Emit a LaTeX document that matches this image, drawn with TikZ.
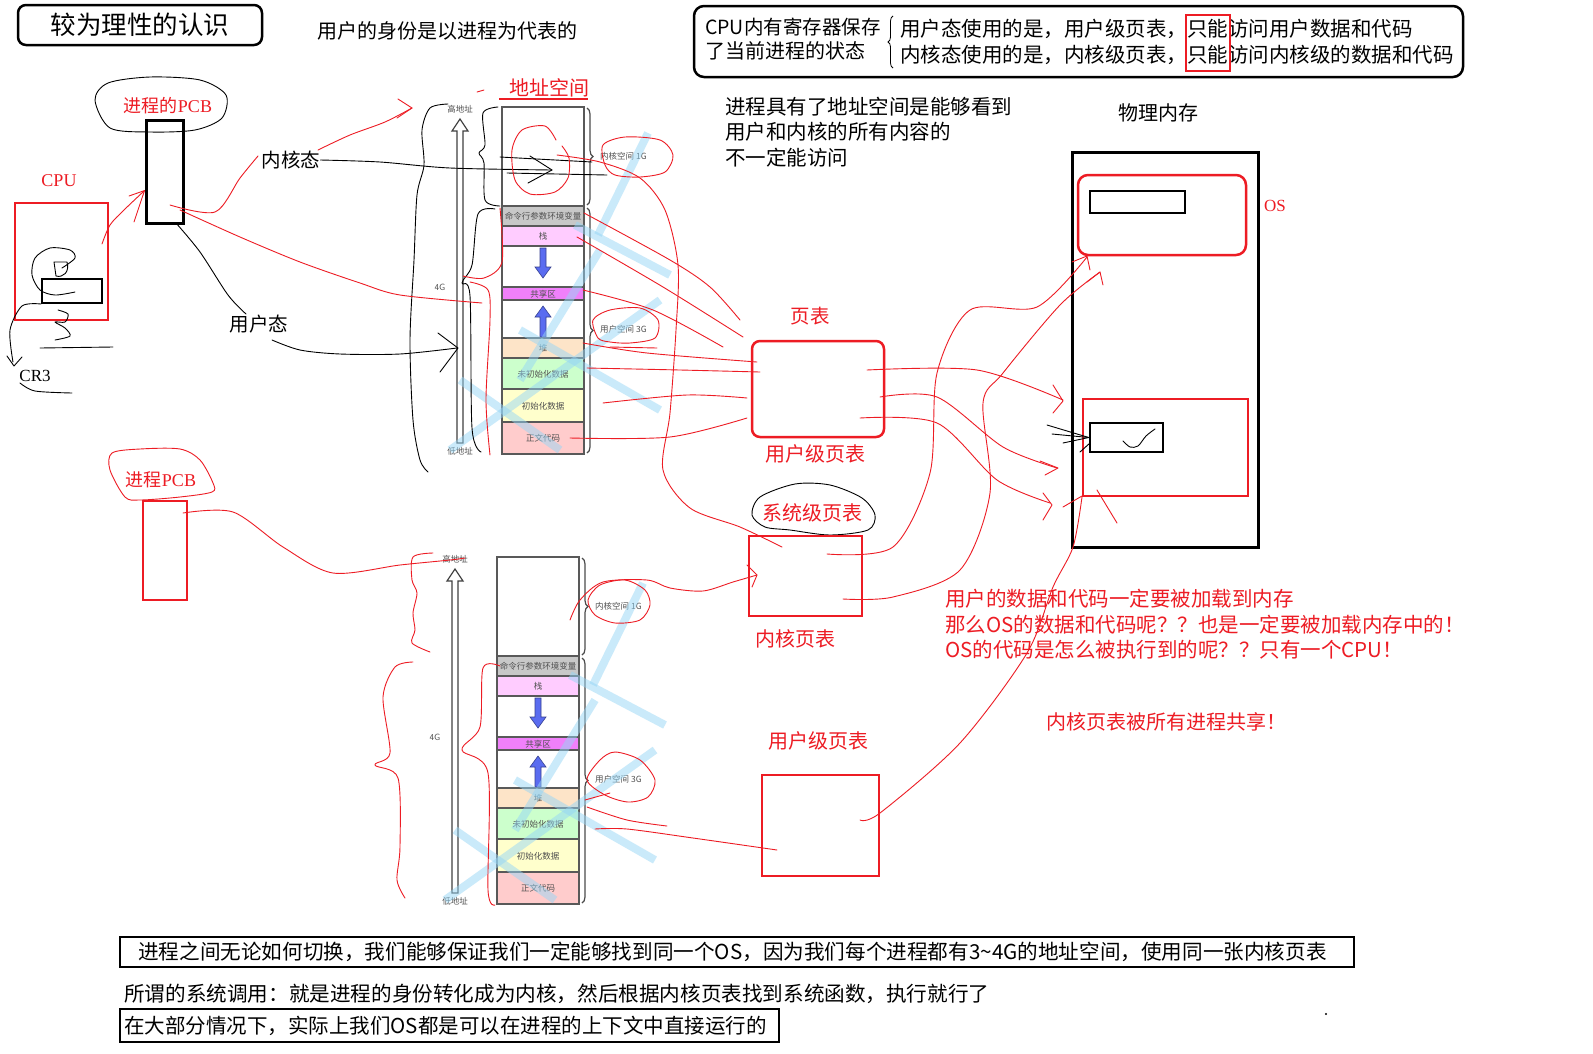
\documentclass[tikz,border=0pt]{standalone}
\usepackage{fontspec}
\usetikzlibrary{decorations.pathreplacing,calc,shapes.geometric}
\newfontfamily\cjk{Noto Sans CJK SC}
\newfontfamily\serif{Liberation Serif}
\definecolor{hred}{RGB}{237,28,36}
\definecolor{wmblue}{RGB}{150,214,246}
\definecolor{segcmd}{RGB}{200,200,200}
\definecolor{segstack}{RGB}{255,204,255}
\definecolor{segshare}{RGB}{240,128,250}
\definecolor{segheap}{RGB}{253,228,200}
\definecolor{segbss}{RGB}{204,255,204}
\definecolor{segdata}{RGB}{255,255,204}
\definecolor{segtext}{RGB}{255,204,204}
\definecolor{arrblue}{RGB}{90,108,240}
\definecolor{labgray}{RGB}{80,80,80}

\tikzset{
  cn/.style={font=\cjk\fontsize{#1}{#1}\selectfont, inner sep=0pt, text=black},
  rcn/.style={cn=#1, text=hred},
  sr/.style={font=\serif\fontsize{#1}{#1}\selectfont, inner sep=0pt},
  bh/.style={line width=0.9pt, black, line cap=round, line join=round},
  rh/.style={line width=0.9pt, hred, line cap=round, line join=round},
  rbox/.style={draw=hred, line width=2.5pt},
  kbox/.style={draw=black, line width=2.5pt},
  seglab/.style={cn=8.5, text=labgray},
  colline/.style={draw=black!65, line width=1.2pt},
  wm/.style={line width=8pt, wmblue, opacity=0.5},
}

% one 4G address-space column, drawn with its top-left corner at the origin
\newcommand\addrcolumn{%
  \fill[white] (0,0) rectangle (82,347);
  \fill[segcmd] (0,99) rectangle (82,119);
  \fill[segstack] (0,119) rectangle (82,139);
  \fill[segshare] (0,180) rectangle (82,193);
  \fill[segheap] (0,231) rectangle (82,251);
  \fill[segbss] (0,251) rectangle (82,282);
  \fill[segdata] (0,282) rectangle (82,315);
  \fill[segtext] (0,315) rectangle (82,347);
  \foreach \yy in {99,119,139,180,193,231,251,282,315}{\draw[colline] (0,\yy) -- (82,\yy);}
  \draw[colline] (0,0) rectangle (82,347);
  \node[seglab] at (41,109) {命令行参数环境变量};
  \node[seglab] at (41,129) {栈};
  \node[seglab] at (41,187) {共享区};
  \node[seglab] at (41,241) {堆};
  \node[seglab] at (41,267) {未初始化数据};
  \node[seglab] at (41,299) {初始化数据};
  \node[seglab] at (41,331) {正文代码};
  % stack grows down, heap grows up
  \draw[fill=arrblue, draw=arrblue!60!black, line width=0.6pt]
    (38,141)--(44,141)--(44,160)--(49,160)--(41,171)--(33,160)--(38,160)--cycle;
  \draw[fill=arrblue, draw=arrblue!60!black, line width=0.6pt]
    (38,230)--(44,230)--(44,210)--(49,210)--(41,199)--(33,210)--(38,210)--cycle;
  % braces for kernel / user space
  \draw[decorate, decoration={brace, amplitude=6pt}, black!70, line width=1.2pt] (85,1) -- (85,98);
  \draw[decorate, decoration={brace, amplitude=6pt}, black!70, line width=1.2pt] (85,101) -- (85,346);
  \node[seglab, anchor=west] at (98,49) {内核空间 1G};
  \node[seglab, anchor=west] at (98,222) {用户空间 3G};
  % low -> high address arrow
  \draw[fill=white, draw=black!75, line width=1.2pt]
    (-45,336)--(-39,336)--(-39,24)--(-34,24)--(-42,12)--(-50,24)--(-45,24)--cycle;
  \node[seglab] at (-42,2) {高地址};
  \node[seglab] at (-42,344) {低地址};
  \node[seglab, font=\sffamily\fontsize{9}{9}\selectfont] at (-62,180) {4G};
  % faint watermark strokes
  \draw[wm] (146,26) -- (96,128);
  \draw[wm] (73,118) -- (168,168);
  \draw[wm] (158,193) -- (-52,343);
  \draw[wm] (18,223) -- (158,303);
  \draw[wm] (98,143) -- (18,273);
  \draw[wm] (-42,273) -- (58,343);
}

\begin{document}
\begin{tikzpicture}[x=1pt,y=-1pt]
\useasboundingbox (0,0) rectangle (1593,1053);
\fill[white] (0,0) rectangle (1593,1053);

% ---------- headings ----------
\node[draw, rounded corners=8pt, line width=2.5pt, minimum width=244pt, minimum height=40pt,
      cn=25.5] (title) at (140,25) {较为理性的认识};
\node[cn=20] (ident) at (447,31) {用户的身份是以进程为代表的};

\draw[line width=2.5pt, rounded corners=10pt] (694,6) rectangle (1463,77);
\node[cn=19.5, anchor=west] (reg1) at (705,27) {CPU内有寄存器保存};
\node[cn=20, anchor=west] (reg2) at (705,51) {了当前进程的状态};
\draw[decorate, decoration={brace, amplitude=5pt, mirror}, line width=0.8pt] (893,16) -- (893,68);
\node[cn=20.5, anchor=west] (umode) at (900,29) {用户态使用的是，用户级页表，只能访问用户数据和代码};
\node[cn=20.5, anchor=west] (kmode) at (900,55) {内核态使用的是，内核级页表，只能访问内核级的数据和代码};
\draw[hred, line width=2.5pt] (1186,15) rectangle (1230,71);

\node[cn=20.5, anchor=west] (see1) at (725,107) {进程具有了地址空间是能够看到};
\node[cn=20.5, anchor=west] (see2) at (725,132) {用户和内核的所有内容的};
\node[cn=20.5, anchor=west] (see3) at (725,158) {不一定能访问};

% ---------- address spaces ----------
\node[rcn=20] (asp) at (549,88) {地址空间};
\draw[hred, line width=1.5pt] (499,99) -- (588,99);
\begin{scope}[shift={(502,107)}]\addrcolumn\end{scope}
\begin{scope}[shift={(497,557)}]\addrcolumn\end{scope}

% ---------- physical memory ----------
\node[cn=20] (phys) at (1158,113) {物理内存};
\draw[black, line width=3pt] (1072,152) rectangle (1258,547);
\draw[rbox, rounded corners=10pt] (1078,175) rectangle (1246,255);
\node[draw, line width=2.5pt, minimum width=95pt, minimum height=22pt, inner sep=0pt] (oscode) at (1137.5,202) {};
\node[sr=17, text=hred] (oslab) at (1275,206) {OS};
\draw[rbox] (1083,399) rectangle (1248,496);
\node[draw, line width=2.5pt, minimum width=73pt, minimum height=29pt, inner sep=0pt] (usermem) at (1126.5,437.5) {};
\draw[bh] plot[smooth] coordinates {(1123,441) (1130,447) (1138,446) (1146,436) (1155,429)};

% ---------- page tables ----------
\node[rcn=19.5] (ptlab) at (810,316) {页表};
\node[draw=hred, line width=2.5pt, rounded corners=8pt, minimum width=132pt, minimum height=96pt] (upt) at (818,389) {};
\node[rcn=20] (uptlab) at (815,454) {用户级页表};
\node[rcn=20] (sptlab) at (812,513) {系统级页表};
\draw[bh] plot[smooth cycle] coordinates {(752,515) (760,497) (795,484) (830,485) (862,498) (875,515) (868,530) (830,535) (790,530) (765,527)};
\node[draw=hred, line width=2.5pt, minimum width=113pt, minimum height=80pt] (kpt) at (805.5,576) {};
\node[rcn=20] (kptlab) at (795,639) {内核页表};
\node[rcn=20] (upt2lab) at (818,741) {用户级页表};
\node[draw=hred, line width=2.5pt, minimum width=117pt, minimum height=101pt] (upt2) at (820.5,825.5) {};

% ---------- red remarks ----------
\node[rcn=20.5, anchor=west] (rm1) at (945,599) {用户的数据和代码一定要被加载到内存};
\node[rcn=20.5, anchor=west] (rm2) at (945,625) {那么OS的数据和代码呢？？也是一定要被加载内存中的！};
\node[rcn=20.5, anchor=west] (rm3) at (945,650) {OS的代码是怎么被执行到的呢？？只有一个CPU！};
\node[rcn=20] (share) at (1166,722) {内核页表被所有进程共享！};

% ---------- bottom notes ----------
\draw[line width=2.5pt] (120,937) rectangle (1354,967);
\node[cn=20.6, anchor=west] (note1) at (138,952) {进程之间无论如何切换，我们能够保证我们一定能够找到同一个OS，因为我们每个进程都有3\textasciitilde 4G的地址空间，使用同一张内核页表};
\node[cn=20.6, anchor=west] (note2) at (124,994) {所谓的系统调用：就是进程的身份转化成为内核，然后根据内核页表找到系统函数，执行就行了};
\draw[line width=2.5pt] (120,1009) rectangle (779,1042);
\node[cn=20.5, anchor=west] (note3) at (124,1026) {在大部分情况下，实际上我们OS都是可以在进程的上下文中直接运行的};
\fill (1326,1014) circle (1.2);

% ---------- CPU and PCBs ----------
\node[font=\fontsize{18}{18}\selectfont, inner sep=0pt, text=hred] (pcblab) at (168,106) {{\cjk 进程的}{\serif PCB}};
\draw[bh] plot[smooth cycle] coordinates {(95,100) (108,83) (150,77) (200,80) (226,95) (222,118) (195,130) (150,132) (110,128)};
\node[draw, line width=3pt, minimum width=37pt, minimum height=103pt, inner sep=0pt] (pcb) at (164.5,171.5) {};
\node[sr=18, text=hred] (cpulab) at (59,181) {CPU};
\node[draw=hred, line width=2.5pt, minimum width=93pt, minimum height=117pt, inner sep=0pt] (cpu) at (61.5,261.5) {};
\node[draw, line width=2pt, minimum width=60pt, minimum height=24pt, inner sep=0pt] (cr) at (72,291) {};
\node[sr=17] (cr3) at (35,376) {CR3};
\node[cn=19.5] (kst) at (291,160) {内核态};
\node[cn=19.5] (ust) at (259,324) {用户态};
\node[font=\fontsize{18}{18}\selectfont, inner sep=0pt, text=hred] (pcb2lab) at (161,480) {{\cjk 进程}{\serif PCB}};
\node[draw=hred, line width=2.5pt, minimum width=44pt, minimum height=99pt, inner sep=0pt] (pcb2) at (165,550.5) {};
\coordinate (pcbin) at ($(pcb.south west)!0.32!(pcb.north west)$);

% scribbles inside the CPU
\draw[bh] plot[smooth] coordinates {(62,268) (75,258) (70,250) (50,248) (35,258) (32,275) (40,290) (55,295) (75,292)};
\draw[bh] (54,262) -- (67,262) .. controls (70,272) and (63,278) .. (56,276) -- cycle;
\draw[bh] plot[smooth] coordinates {(58,310) (68,314) (65,322) (55,322) (65,328) (70,336) (55,340)};
\draw[bh] (40,348) -- (113,347);
\draw[bh] plot[smooth] coordinates {(cr.south west) (22,306) (10,330) (13,362)};
\draw[bh] (7,356) -- (14,366) -- (22,357);
\draw[bh] plot[smooth] coordinates {(20,383) (35,391) (72,393)};

% ---------- black hand-drawn connectors ----------
\draw[bh] plot[smooth] coordinates {(kst.east) (380,162) (450,168) (552,170)};
\draw[bh] (530,156) -- (552,170) -- (528,183);
\draw[bh] (500,157) -- (592,162);
\draw[bh] (507,173) -- (607,175);
\draw[bh] plot[smooth] coordinates {(176,223) (200,252) (228,295) (246,314)};
\draw[bh] plot[smooth] coordinates {(272,340) (300,350) (340,354) (400,354) (457,348)};
\draw[bh] (438,333) -- (458,348) -- (440,372);
\draw[bh] plot[smooth] coordinates {(448,104) (430,108) (422,130) (424,165) (417,195) (414,260) (410,340) (413,420) (420,460) (428,472)};
\draw[bh] plot[smooth] coordinates {(498,107) (483,113) (485,145) (479,153) (484,163) (485,200) (500,206)};
\draw[bh] plot[smooth] coordinates {(495,209) (478,214) (472,265) (462,283) (470,296) (472,428) (481,452)};
\draw[bh] (1047,425) -- (usermem.west);
\draw[bh] (1052,434) -- (usermem.west);
\draw[bh] (1063,443) -- (usermem.west);
\draw[bh] (1080,452) -- (1090,443);

% ---------- red hand-drawn connectors ----------
% CPU -> PCB
\draw[rh] plot[smooth] coordinates {(102,244) (110,225) (124,210) (pcbin)};
\draw[rh] (129,196) -- (pcbin) -- (134,222);
% PCB -> high addresses / user space
\draw[rh] plot[smooth] coordinates {(170,205) (215,212) (240,178) (258,156)};
\draw[rh] plot[smooth] coordinates {(318,150) (350,135) (385,122) (412,108)};
\draw[rh] (398,99) -- (412,108) -- (397,118);
\draw[rh] (477,92) -- (484,90);
\draw[rh] plot[smooth] coordinates {(180,210) (240,237) (300,262) (360,283) (400,295) (482,303)};
\draw[rh] plot[smooth] coordinates {(500,208) (502,262) (484,278) (463,276)};
\draw[rh] plot[smooth] coordinates {(470,282) (488,290) (490,320) (486,400) (490,455)};
% circles drawn over the upper column
\draw[rh] plot[smooth] coordinates {(556,140) (545,126) (522,130) (512,150) (515,180) (530,194) (555,192) (568,178) (569,158) (562,146)};
\draw[rh] plot[smooth cycle] coordinates {(605,165) (603,145) (625,137) (660,140) (673,155) (665,172) (640,177) (615,175)};
\draw[rh] plot[smooth cycle] coordinates {(598,338) (593,320) (610,310) (640,308) (658,320) (655,338) (630,343) (610,342)};
\draw[rh] (610,347) -- (657,348);
% segments -> user page table
\draw[rh] plot[smooth] coordinates {(584,213) (670,260) (710,287) (740,320)};
\draw[rh] plot[smooth] coordinates {(577,237) (663,287) (743,337)};
\draw[rh] plot[smooth] coordinates {(583,290) (653,310) (723,347)};
\draw[rh] plot[smooth] coordinates {(583,343) (647,353) (757,362)};
\draw[rh] plot[smooth] coordinates {(587,368) (680,370) (760,372)};
\draw[rh] plot[smooth] coordinates {(603,403) (687,395) (747,398)};
\draw[rh] plot[smooth] coordinates {(570,438) (670,437) (747,418)};
% kernel space -> kernel page table
\draw[rh] plot[smooth] coordinates {(557,155) (600,162) (640,178) (665,210) (678,265) (676,330) (670,413) (663,470) (690,508) (740,527) (782,547)};
% user page table -> user memory
\draw[rh] plot[smooth] coordinates {(867,370) (977,370) (1063,400)};
\draw[rh] (1053,385) -- (1063,401) -- (1053,413);
\draw[rh] plot[smooth] coordinates {(880,397) (937,397) (1003,447) (1057,468)};
\draw[rh] (1040,461) -- (1058,468) -- (1045,475);
\draw[rh] plot[smooth] coordinates {(860,418) (937,423) (997,480) (1050,503)};
\draw[rh] (1043,493) -- (1052,505) -- (1043,520);
% kernel page table -> OS
\draw[rh] plot[smooth] coordinates {(827,554) (893,547) (930,473) (937,373) (970,310) (1037,307) (1087,257)};
\draw[rh] (1072,262) -- (1087,256) -- (1090,270);
\draw[rh] plot[smooth] coordinates {(843,599) (893,597) (960,570) (990,493) (983,403) (1003,373) (1060,305) (1100,272)};
\draw[rh] (1087,282) -- (1100,272) -- (1103,285);
% second process
\draw[rh] plot[smooth cycle] coordinates {(110,470) (112,453) (140,449) (180,449) (200,460) (213,483) (212,492) (180,497) (140,500) (125,497)};
\draw[rh] plot[smooth] coordinates {(183,513) (233,512) (283,547) (333,573) (400,565) (450,560) (465,558)};
\draw[rh] plot[smooth] coordinates {(433,553) (413,557) (412,580) (417,593) (413,613) (415,630) (412,643) (430,652)};
\draw[rh] plot[smooth] coordinates {(413,662) (395,667) (383,697) (390,753) (375,765) (398,778) (400,847) (397,880) (405,898)};
\draw[rh] plot[smooth] coordinates {(500,666) (483,668) (480,727) (462,750) (488,773) (488,890) (495,905)};
\draw[rh] plot[smooth cycle] coordinates {(588,600) (600,585) (625,580) (645,590) (650,605) (640,620) (615,623) (595,615)};
\draw[rh] plot[smooth cycle] coordinates {(587,780) (600,760) (615,752) (640,760) (655,780) (648,797) (628,802) (605,795)};
\draw[rh] plot[smooth] coordinates {(570,620) (580,600) (603,582) (647,580) (670,588) (703,591) (733,582) (757,575)};
\draw[rh] (747,565) -- (757,575) -- (752,587);
\draw[rh] plot[smooth] coordinates {(595,829) (627,829) (693,838) (777,850)};
\draw[rh] plot[smooth] coordinates {(587,807) (627,820) (667,826)};
\draw[rh] (585,800) -- (610,793);
\draw[rh] plot[smooth] coordinates {(860,820) (880,813) (960,743) (1027,653) (1053,587) (1073,547) (1082,497)};
\draw[rh] (1063,507) -- (1082,496);
\draw[rh] (1097,490) -- (1117,523);
\end{tikzpicture}
\end{document}
